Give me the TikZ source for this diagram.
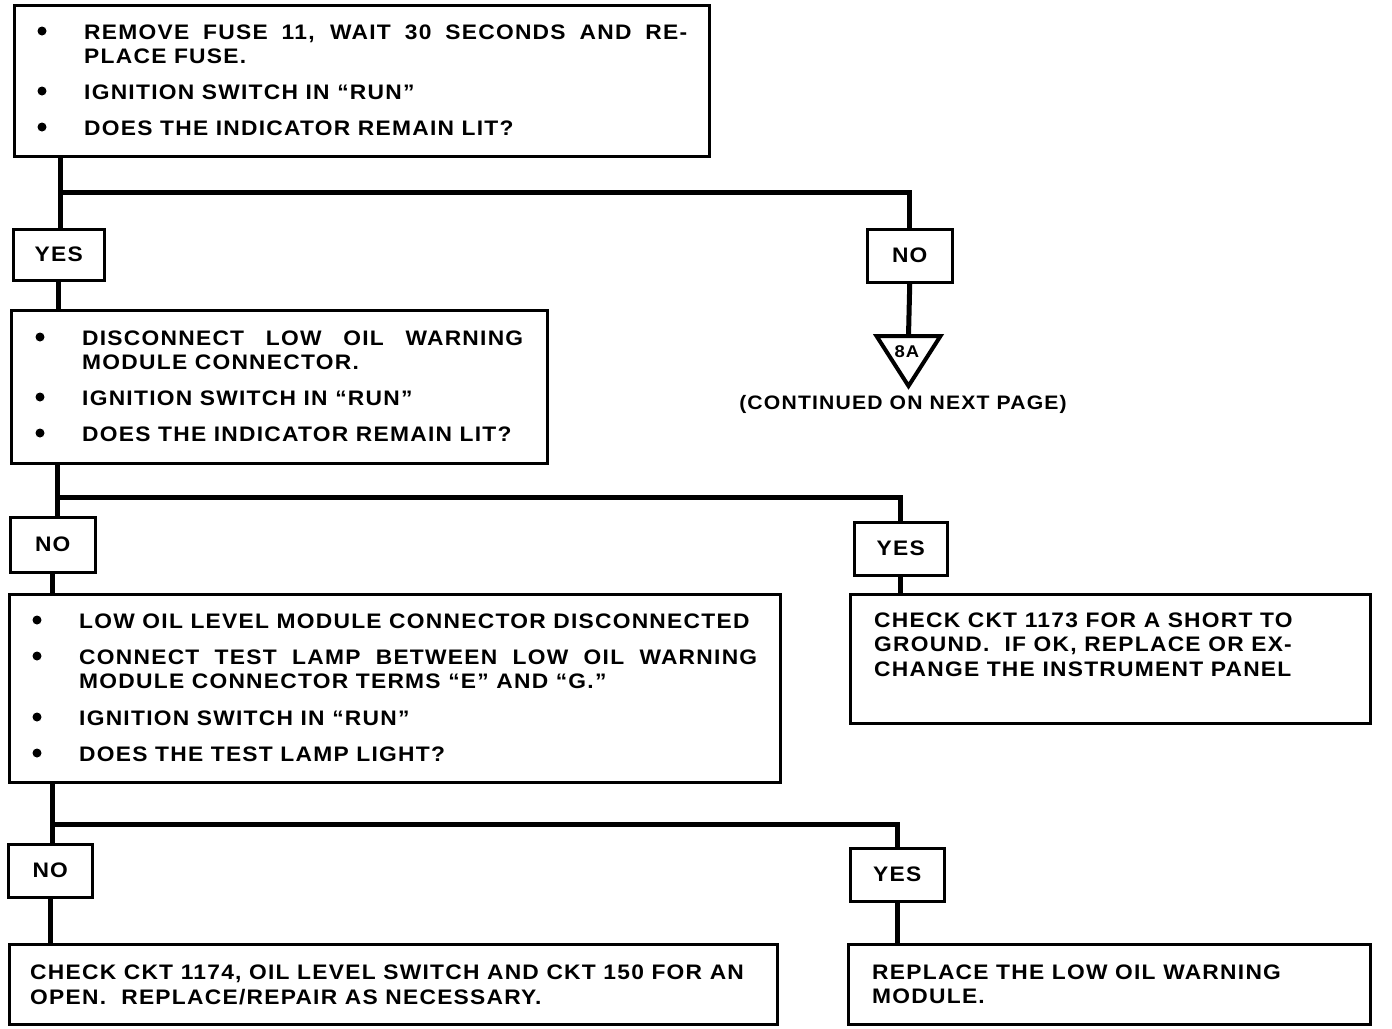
\documentclass[tikz,border=0pt]{standalone}
\usepackage{fontspec}
\setmainfont{Liberation Sans}[LetterSpace=6,FakeStretch=1.085]
\begin{document}
\begin{tikzpicture}[x=1pt,y=-1pt,
  box/.style={draw, line width=2.5pt, anchor=north west, inner sep=0pt, rectangle},
  conn/.style={line width=5pt},
  txt/.style={anchor=base west, inner sep=0pt, font=\fontsize{21}{24}\selectfont\bfseries},
  ctr/.style={inner sep=0pt, font=\fontsize{21}{24}\selectfont\bfseries},
  bul/.style={circle, fill, inner sep=0pt, minimum size=9pt}]
\useasboundingbox (0,0) rectangle (1392,1028);
% boxes
\node[box, minimum width=695pt, minimum height=151pt] (b1) at (13,4) {};
\node[box, minimum width=91pt, minimum height=51pt] (yes1) at (12,228) {};
\node[box, minimum width=85pt, minimum height=53pt] (no1) at (866,228) {};
\node[box, minimum width=536pt, minimum height=153pt] (b2) at (10,309) {};
\node[box, minimum width=85pt, minimum height=55pt] (no2) at (9,516) {};
\node[box, minimum width=93pt, minimum height=53pt] (yes2) at (853,521) {};
\node[box, minimum width=771pt, minimum height=188pt] (b3) at (8,593) {};
\node[box, minimum width=520pt, minimum height=129pt] (b4) at (849,593) {};
\node[box, minimum width=84pt, minimum height=53pt] (no3) at (7,843) {};
\node[box, minimum width=94pt, minimum height=53pt] (yes3) at (849,847) {};
\node[box, minimum width=768pt, minimum height=80pt] (b5) at (8,943) {};
\node[box, minimum width=522pt, minimum height=80pt] (b6) at (847,943) {};
% labels
\node[ctr] (tyes1) at (yes1.center) {YES};
\node[ctr] (tno1) at (no1.center) {NO};
\node[ctr] (tno2) at (no2.center) {NO};
\node[ctr] (tyes2) at (yes2.center) {YES};
\node[ctr] (tno3) at (no3.center) {NO};
\node[ctr] (tyes3) at (yes3.center) {YES};
% triangle
\coordinate (tri) at (908.5,336);
\draw[line width=4pt, line join=miter] (tri) ++(-32,0) -- ++(64,0) -- (908.5,386) -- cycle;
\node[inner sep=0pt, font=\fontsize{17}{18}\selectfont\bfseries] (t8a) at (907,352) {8A};
\node[inner sep=0pt, font=\fontsize{19.5}{22}\selectfont\bfseries] (cont) at (903,404) {(CONTINUED ON NEXT PAGE)};
% connectors
\coordinate (j1) at (60,192);
\coordinate (j2) at (57,497);
\coordinate (j3) at (52,824);
\draw[conn] (b1.south -| j1) -- (j1) -- (yes1.north -| j1);
\draw[conn] (j1) -| (no1.north);
\draw[conn] (no1.south) -- (tri);
\draw[conn] (yes1.south) -- (b2.north -| yes1.south);
\draw[conn] (b2.south -| j2) -- (j2) -- (no2.north -| j2);
\draw[conn] (j2) -| (yes2.north);
\draw[conn] (no2.south) -- (b3.north -| no2.south);
\draw[conn] (yes2.south) -- (b4.north -| yes2.south);
\draw[conn] (b3.south -| j3) -- (j3) -- (no3.north -| j3);
\draw[conn] (j3) -| (yes3.north);
\draw[conn] (no3.south) -- (b5.north -| no3.south);
\draw[conn] (yes3.south) -- (b6.north -| yes3.south);
% box 1 text
\node[bul] (d11) at (42,31) {};
\node[txt] (t11) at (84,39) {\makebox[603pt][s]{REMOVE FUSE 11, WAIT 30 SECONDS AND RE-}};
\node[txt] (t12) at (84,63) {PLACE FUSE.};
\node[bul] (d12) at (42,91) {};
\node[txt] (t13) at (84,99) {IGNITION SWITCH IN “RUN”};
\node[bul] (d13) at (42,127) {};
\node[txt] (t14) at (84,135) {DOES THE INDICATOR REMAIN LIT?};
% box 2 text
\node[bul] (d21) at (40,337) {};
\node[txt] (t21) at (82,345) {\makebox[441pt][s]{DISCONNECT LOW OIL WARNING}};
\node[txt] (t22) at (82,369) {MODULE CONNECTOR.};
\node[bul] (d22) at (40,397) {};
\node[txt] (t23) at (82,405) {IGNITION SWITCH IN “RUN”};
\node[bul] (d23) at (40,433) {};
\node[txt] (t24) at (82,441) {DOES THE INDICATOR REMAIN LIT?};
% box 3 text
\node[bul] (d31) at (37,620) {};
\node[txt] (t31) at (79,628) {LOW OIL LEVEL MODULE CONNECTOR DISCONNECTED};
\node[bul] (d32) at (37,656) {};
\node[txt] (t32) at (79,664) {\makebox[678pt][s]{CONNECT TEST LAMP BETWEEN LOW OIL WARNING}};
\node[txt] (t33) at (79,688) {MODULE CONNECTOR TERMS “E” AND “G.”};
\node[bul] (d33) at (37,717) {};
\node[txt] (t34) at (79,725) {IGNITION SWITCH IN “RUN”};
\node[bul] (d34) at (37,753) {};
\node[txt] (t35) at (79,761) {DOES THE TEST LAMP LIGHT?};
% box 4 text
\node[txt] (t41) at (874,627) {CHECK CKT 1173 FOR A SHORT TO};
\node[txt] (t42) at (874,651) {GROUND.\ \ IF OK, REPLACE OR EX-};
\node[txt] (t43) at (874,676) {CHANGE THE INSTRUMENT PANEL};
% box 5 text
\node[txt] (t51) at (30,979) {CHECK CKT 1174, OIL LEVEL SWITCH AND CKT 150 FOR AN};
\node[txt] (t52) at (30,1004) {OPEN.\ \ REPLACE/REPAIR AS NECESSARY.};
% box 6 text
\node[txt] (t61) at (872,979) {REPLACE THE LOW OIL WARNING};
\node[txt] (t62) at (872,1003) {MODULE.};
\end{tikzpicture}
\end{document}
